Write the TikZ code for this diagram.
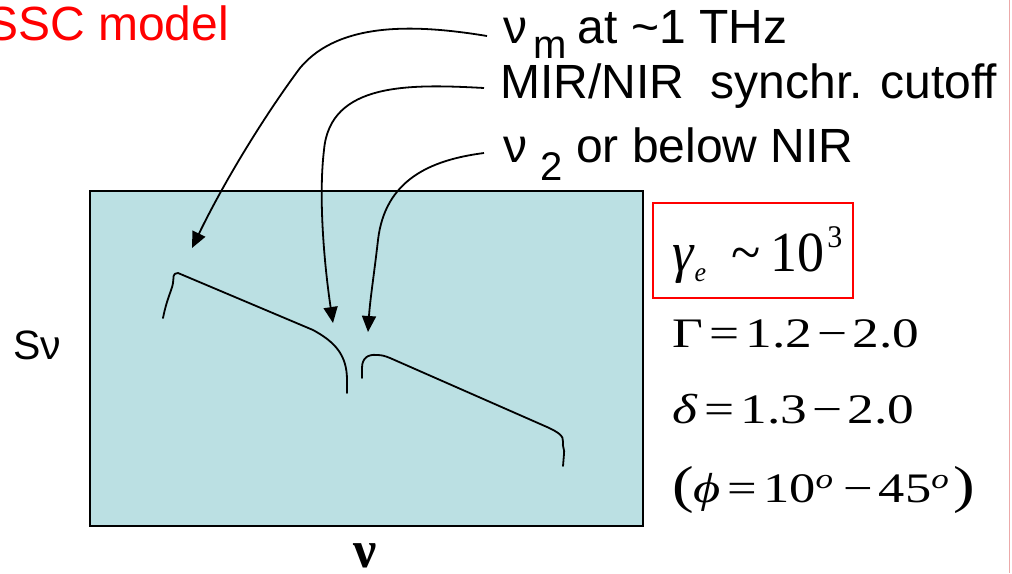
\documentclass[tikz,border=0pt]{standalone}
\usepackage{fontspec}
\usepackage{graphicx}
\setmainfont{Liberation Sans}
\newfontfamily\tnr{Liberation Serif}
\usetikzlibrary{arrows.meta}
\definecolor{boxfill}{RGB}{187,224,227}
\definecolor{pinkline}{RGB}{236,170,170}
\newcommand{\myfs}[1]{\fontsize{#1}{#1}\selectfont}
\begin{document}
\begin{tikzpicture}[x=1pt,y=-1pt,
  txt/.style={inner sep=0pt, anchor=base west},
  conn/.style={line width=1.8pt, -{Triangle[length=16pt,width=14pt]}},
  spec/.style={line width=1.8pt, line cap=round, line join=round}]
\useasboundingbox (0,0) rectangle (1012,573);
\fill[white] (0,0) rectangle (1012,573);
\draw[pinkline, line width=1pt] (1009,0) -- (1009,573);
% plot box
\draw[fill=boxfill, line width=2.5pt] (90,191) rectangle (643,526);
% title
\node[txt, text=red, font=\myfs{48}] (title) at (-14,40) {SSC model};
% labels
\node[txt, font=\myfs{48}] (l1) at (503,43) {ν\hspace{6pt}\raisebox{-15pt}{\myfs{40}m}\hspace{-2pt} at \textasciitilde1 THz};
\node[txt, font=\myfs{48}] (l2) at (500,98) {MIR/NIR\ \ synchr. cutoff};
\node[txt, font=\myfs{48}] (l3) at (503,162) {ν \raisebox{-18pt}{\myfs{40}2} or below NIR};
% axis labels
\node[txt, font=\myfs{41}] (sv) at (13,359) {Sν};
\node[txt, font=\tnr\bfseries\myfs{52}] (nu) at (353,567) {ν};
% parameters
\draw[red, line width=2pt] (653,203) rectangle (853,298);
\node[txt, font=\tnr\myfs{54}] (g) at (672,271) {\scalebox{1}[1.05]{\textit{γ}\raisebox{-10pt}{\myfs{26}\textit{e}}\hspace{25pt}\textasciitilde\hspace{10pt}10\hspace{3pt}\raisebox{22pt}{\myfs{30}3}}};
\node[txt, font=\tnr\myfs{42}] (G) at (672,347) {\scalebox{1.27}[1]{Γ\hspace{5pt}=\hspace{5pt}1.2\hspace{4pt}−\hspace{4pt}2.0}};
\node[txt, font=\tnr\myfs{42}] (d) at (672,423) {\scalebox{1.27}[1]{\textit{δ}\hspace{5pt}=\hspace{5pt}1.3\hspace{4pt}−\hspace{4pt}2.0}};
\node[txt, font=\tnr\myfs{42}] (p) at (672,502) {\scalebox{1.25}[1]{{\myfs{52}(}\textit{ϕ}\hspace{5pt}=\hspace{5pt}10\raisebox{14pt}{\myfs{28}\textit{o}}\hspace{8pt}−\hspace{5pt}45\raisebox{14pt}{\myfs{28}\textit{o}}\hspace{4pt}{\myfs{52})}}};
% spectrum
\draw[spec] (163,318) .. controls (167,298) and (172,290) .. (173,283)
  .. controls (174,278) and (172,273) .. (178,273) -- (313,330)
  .. controls (335,342) and (347,355) .. (347,380) -- (347,393);
\draw[spec] (362,378) -- (362,368) .. controls (362,358) and (368,354) .. (377,355)
  .. controls (382,355) and (385,356) .. (390,358) -- (547,427)
  .. controls (558,432) and (564,436) .. (563,442)
  .. controls (562,446) and (565,450) .. (564,454) -- (563,466);
% connectors
\coordinate (s1) at (487,36);
\coordinate (s2) at (484,88);
\coordinate (s3) at (484,153);
\coordinate (t1) at (192,248);
\coordinate (t2) at (333,323);
\coordinate (t3) at (368,332);
\draw[conn] (s1) .. controls (420,25) and (340,20) .. (300,68)
  .. controls (265,115) and (225,180) .. (t1);
\draw[conn] (s2) .. controls (410,84) and (330,82) .. (324,150)
  .. controls (318,200) and (325,270) .. (t2);
\draw[conn] (s3) .. controls (430,160) and (385,180) .. (378,240)
  .. controls (374,275) and (370,300) .. (t3);
\end{tikzpicture}
\end{document}
